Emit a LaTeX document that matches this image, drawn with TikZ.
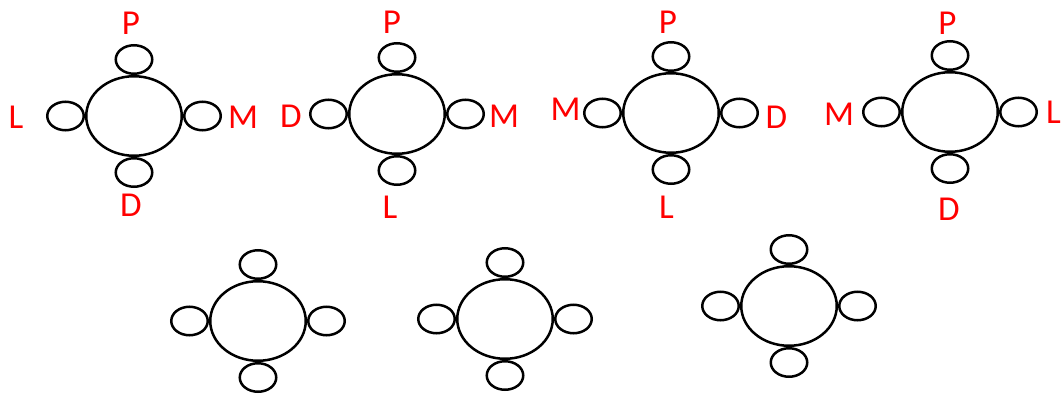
\documentclass[tikz,border=0pt]{standalone}
\usepackage{fontspec}
\setmainfont{Carlito}
\usepackage{tikz}
\usetikzlibrary{shapes.geometric, positioning}

\begin{document}
\begin{tikzpicture}[x=1pt, y=-1pt,
    tablebox/.style={draw, ellipse, line width=2.5pt, minimum width=95.5pt, minimum height=79.5pt, inner sep=0pt},
    chair/.style={draw, ellipse, line width=2.5pt, minimum width=36.5pt, minimum height=28.5pt, inner sep=0pt},
    tag/.style={text=red, font=\fontsize{35}{35}\selectfont, inner sep=0pt}]

    \useasboundingbox (0,0) rectangle (1062,396);

    % top row, with names
    \node[tablebox] (t1) at (134,116) {};
    \node[chair, above=0pt of t1] (t1n) {}; \node[chair, below=0pt of t1] (t1s) {};
    \node[chair, left=0pt of t1] (t1w) {}; \node[chair, right=0pt of t1] (t1e) {};

    \node[tablebox] (t2) at (397,114) {};
    \node[chair, above=0pt of t2] (t2n) {}; \node[chair, below=0pt of t2] (t2s) {};
    \node[chair, left=0pt of t2] (t2w) {}; \node[chair, right=0pt of t2] (t2e) {};

    \node[tablebox] (t3) at (671,113) {};
    \node[chair, above=0pt of t3] (t3n) {}; \node[chair, below=0pt of t3] (t3s) {};
    \node[chair, left=0pt of t3] (t3w) {}; \node[chair, right=0pt of t3] (t3e) {};

    \node[tablebox] (t4) at (950,112) {};
    \node[chair, above=0pt of t4] (t4n) {}; \node[chair, below=0pt of t4] (t4s) {};
    \node[chair, left=0pt of t4] (t4w) {}; \node[chair, right=0pt of t4] (t4e) {};

    \node[tag] (p1) at (131,23.5) {P}; \node[tag] (l1) at (16,117) {L};
    \node[tag] (m1) at (243,117) {M}; \node[tag] (d1) at (131,205) {D};

    \node[tag] (p2) at (392,22.5) {P}; \node[tag] (d2) at (291,116) {D};
    \node[tag] (m2) at (504,116) {M}; \node[tag] (l2) at (390,207.5) {L};

    \node[tag] (p3) at (668,22) {P}; \node[tag] (m3) at (565.5,109.5) {M};
    \node[tag] (d3) at (776.5,117.5) {D}; \node[tag] (l3) at (666.5,207) {L};

    \node[tag] (p4) at (947.5,23) {P}; \node[tag] (m4) at (839,114) {M};
    \node[tag] (l4) at (1053.5,112.5) {L}; \node[tag] (d4) at (949,209) {D};

    % bottom row, empty
    \node[tablebox] (t5) at (258,321) {};
    \node[chair, above=0pt of t5] (t5n) {}; \node[chair, below=0pt of t5] (t5s) {};
    \node[chair, left=0pt of t5] (t5w) {}; \node[chair, right=0pt of t5] (t5e) {};

    \node[tablebox] (t6) at (505,319) {};
    \node[chair, above=0pt of t6] (t6n) {}; \node[chair, below=0pt of t6] (t6s) {};
    \node[chair, left=0pt of t6] (t6w) {}; \node[chair, right=0pt of t6] (t6e) {};

    \node[tablebox] (t7) at (789,306) {};
    \node[chair, above=0pt of t7] (t7n) {}; \node[chair, below=0pt of t7] (t7s) {};
    \node[chair, left=0pt of t7] (t7w) {}; \node[chair, right=0pt of t7] (t7e) {};
\end{tikzpicture}
\end{document}
